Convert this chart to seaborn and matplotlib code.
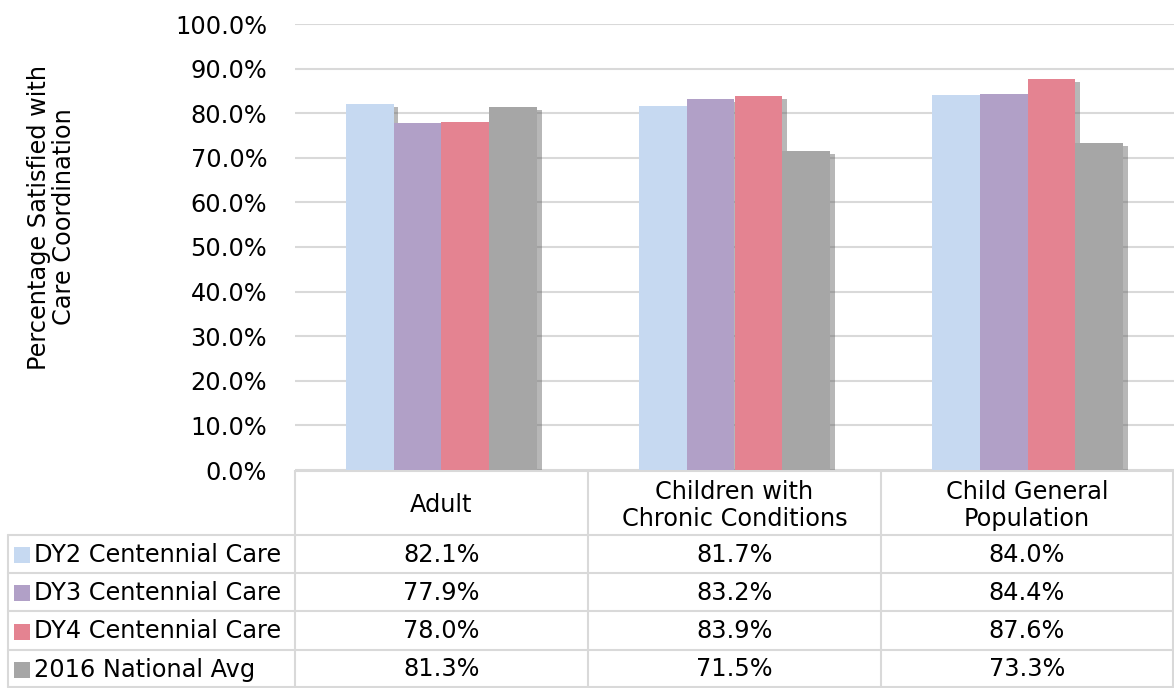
import matplotlib
matplotlib.use("Agg")
from matplotlib import pyplot as plt
import matplotlib.patheffects as pe
import pandas as pd
import seaborn as sns

categories = ["Adult", "Children with\nChronic Conditions", "Child General\nPopulation"]
series = ["DY2 Centennial Care", "DY3 Centennial Care", "DY4 Centennial Care", "2016 National Avg"]
dy2 = [82.1, 81.7, 84.0]
dy3 = [77.9, 83.2, 84.4]
dy4 = [78.0, 83.9, 87.6]
natl = [81.3, 71.5, 73.3]
colors = ["#C6D9F1", "#B1A0C7", "#E48391", "#A6A6A6"]

values = [dy2, dy3, dy4, natl]
df = pd.DataFrame([
    {"cat": c, "series": s, "val": v}
    for s, vals in zip(series, values)
    for c, v in zip(categories, vals)
])

sns.set_style("white")
plt.rcParams["font.family"] = ["DejaVu Sans"]
plt.rcParams["text.color"] = "black"
plt.rcParams["axes.labelcolor"] = "black"
plt.rcParams["ytick.color"] = "black"
FS = 17.3
W, H = 1174, 688
fig = plt.figure(figsize=(W / 100, H / 100), dpi=100)

# main plot area (pixel geometry of the reference)
x0, x1, ytop, ybot = 295, 1174, 24, 470
ax = fig.add_axes([x0 / W, 1 - ybot / H, (x1 - x0) / W, (ybot - ytop) / H])
sns.barplot(data=df, x="cat", y="val", hue="series", palette=colors,
            width=0.655, gap=0, saturation=1, ax=ax, legend=False)
for p in ax.patches:
    p.set_edgecolor("none")
    p.set_zorder(3)
    p.set_path_effects([pe.SimplePatchShadow(offset=(3, -2), shadow_rgbFace="#606060", alpha=0.45),
                        pe.Normal()])
ax.set_ylim(0, 100)
ax.set_xlim(-0.5, 2.5)
ax.set_yticks(range(0, 101, 10))
ax.set_yticklabels([f"{t:.1f}%" for t in range(0, 101, 10)], fontsize=FS)
ax.tick_params(axis="y", length=0, pad=20)
ax.set_xticks([])
ax.set_xlabel("")
ax.set_ylabel("Percentage Satisfied with\nCare Coordination", fontsize=FS, linespacing=1.05)
ax.yaxis.set_label_coords((76 - x0) / (x1 - x0), 1 - (217 - ytop) / (ybot - ytop))
ax.grid(axis="y", color="#D9D9D9", linewidth=1.5, zorder=0)
for s in ax.spines.values():
    s.set_visible(False)

# data table below the plot
tb = fig.add_axes([0, 0, 1, (H - ybot) / H])
tb.set_xlim(0, W)
tb.set_ylim(H, ybot)
tb.axis("off")
lc = "#D9D9D9"
lw = 1.5
row_y = [535, 573, 611, 650, 687]
col_x = [295, 588, 881, 1173]
tb.plot([x0, 1173], [ybot + 1, ybot + 1], color=lc, lw=lw)
for y in row_y:
    tb.plot([8, 1173], [y, y], color=lc, lw=lw)
tb.plot([8, 8], [row_y[0], row_y[-1]], color=lc, lw=lw)
for x in col_x:
    tb.plot([x, x], [ybot, row_y[-1]], color=lc, lw=lw)
for i, c in enumerate(categories):
    tb.text((col_x[i] + col_x[i + 1]) / 2, (ybot + row_y[0]) / 2 + 3, c,
            ha="center", va="center", fontsize=FS, linespacing=1.15)
for r, (s, vals, col) in enumerate(zip(series, values, colors)):
    yc = (row_y[r] + row_y[r + 1]) / 2 + 1
    tb.plot([22], [yc], marker="s", markersize=11, color=col, markeredgewidth=0)
    tb.text(34, yc, s, ha="left", va="center", fontsize=FS)
    for i, v in enumerate(vals):
        tb.text((col_x[i] + col_x[i + 1]) / 2, yc, f"{v:.1f}%",
                ha="center", va="center", fontsize=FS)

fig.savefig("out.png", dpi=100)
